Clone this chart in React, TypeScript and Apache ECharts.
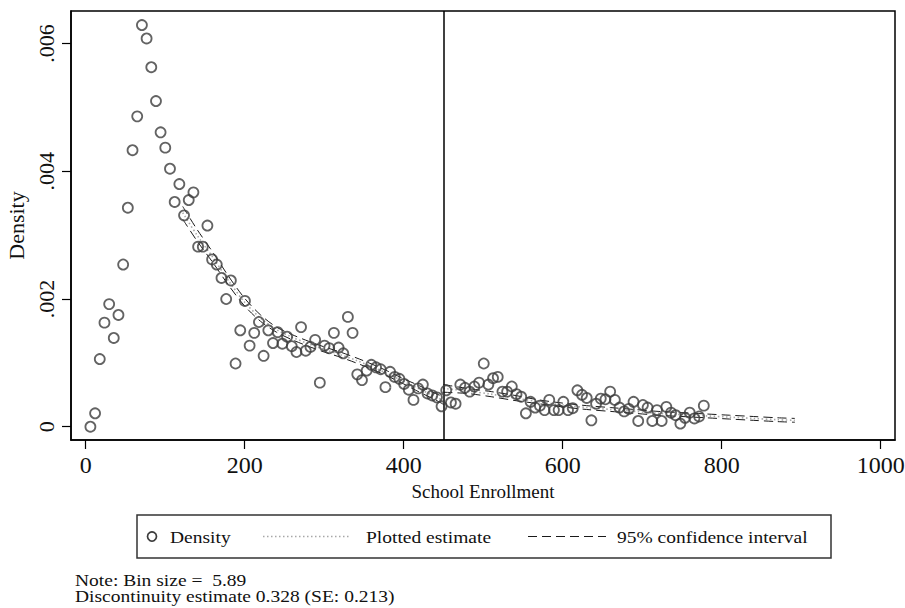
import React, { useEffect, useRef } from "react";
import * as echarts from "echarts";

// Bin centers (School Enrollment)
const binCenters = [
  5.9, 11.8, 17.7, 23.6, 29.5, 35.3, 41.2, 47.1, 53.0, 58.9, 64.8, 70.7, 76.6, 82.5, 88.4, 94.2, 100.1, 106.0, 111.9, 117.8,
  123.7, 129.6, 135.5, 141.4, 147.3, 153.1, 159.0, 164.9, 170.8, 176.7, 182.6, 188.5, 194.4, 200.3, 206.2, 212.0, 217.9, 223.8, 229.7, 235.6,
  241.5, 247.4, 253.3, 259.2, 265.1, 270.9, 276.8, 282.7, 288.6, 294.5, 300.4, 306.3, 312.2, 318.1, 324.0, 329.8, 335.7, 341.6, 347.5, 353.4,
  359.3, 365.2, 371.1, 377.0, 382.9, 388.7, 394.6, 400.5, 406.4, 412.3, 418.2, 424.1, 430.0, 435.9, 441.8, 447.6, 453.5, 459.4, 465.3, 471.2,
  477.1, 483.0, 488.9, 494.8, 500.7, 506.5, 512.4, 518.3, 524.2, 530.1, 536.0, 541.9, 547.8, 553.7, 559.6, 565.4, 571.3, 577.2, 583.1, 589.0,
  594.9, 600.8, 606.7, 612.6, 618.5, 624.3, 630.2, 636.1, 642.0, 647.9, 653.8, 659.7, 665.6, 671.5, 677.4, 683.2, 689.1, 695.0, 700.9, 706.8,
  712.7, 718.6, 724.5, 730.4, 736.3, 742.1, 748.0, 753.9, 759.8, 765.7, 771.6, 777.5,
];

// Density per bin
const density = [
  0.0, 0.00021, 0.00106, 0.00163, 0.00192, 0.00139, 0.00175, 0.00254, 0.00343, 0.00433, 0.00486, 0.00629, 0.00608, 0.00563, 0.0051, 0.00461, 0.00437, 0.00404, 0.00352, 0.0038,
  0.00331, 0.00355, 0.00367, 0.00282, 0.00282, 0.00315, 0.00262, 0.00254, 0.00233, 0.002, 0.00229, 0.00099, 0.00151, 0.00197, 0.00127, 0.00147, 0.00164, 0.00111, 0.00151, 0.00131,
  0.00148, 0.0013, 0.00141, 0.00126, 0.00117, 0.00156, 0.00119, 0.00125, 0.00136, 0.00069, 0.00127, 0.00123, 0.00147, 0.00124, 0.00115, 0.00172, 0.00147, 0.00082, 0.00073, 0.00088,
  0.00097, 0.00093, 0.0009, 0.00062, 0.00086, 0.00078, 0.00075, 0.00067, 0.00058, 0.00042, 0.0006, 0.00066, 0.00052, 0.00049, 0.00046, 0.00032, 0.00057, 0.00038, 0.00036, 0.00066,
  0.00061, 0.00055, 0.00063, 0.00069, 0.00099, 0.00066, 0.00076, 0.00078, 0.00055, 0.00055, 0.00063, 0.00051, 0.00047, 0.00021, 0.00039, 0.0003, 0.00033, 0.00026, 0.00042, 0.00026,
  0.00026, 0.00039, 0.00026, 0.00029, 0.00057, 0.0005, 0.00045, 0.0001, 0.00036, 0.00044, 0.00043, 0.00055, 0.00042, 0.0003, 0.00024, 0.00028, 0.00039, 0.00009, 0.00034, 0.0003,
  0.00009, 0.00026, 0.00009, 0.00031, 0.00022, 0.00018, 0.00005, 0.00014, 0.00022, 0.00013, 0.00016, 0.00033,
];

// Fitted density, left of the cutoff
const leftFitX = [122, 140, 160, 180, 200, 220, 240, 260, 280, 300, 320, 340, 360, 380, 400, 420, 440, 450];
const leftFit = [0.00335, 0.003, 0.00265, 0.00228, 0.00195, 0.0017, 0.00152, 0.0014, 0.0013, 0.00121, 0.00113, 0.00104, 0.00094, 0.00083, 0.00071, 0.00059, 0.00047, 0.00041];
const leftUpper = [0.00345, 0.00309, 0.00273, 0.00235, 0.00201, 0.00175, 0.00156, 0.00144, 0.00134, 0.00125, 0.00117, 0.00108, 0.00098, 0.00087, 0.00075, 0.00064, 0.00052, 0.00047];
const leftLower = [0.00325, 0.00291, 0.00257, 0.00221, 0.00189, 0.00165, 0.00148, 0.00136, 0.00126, 0.00117, 0.00109, 0.001, 0.0009, 0.00079, 0.00067, 0.00054, 0.00042, 0.00035];

// Fitted density, right of the cutoff
const rightFitX = [450, 480, 510, 540, 570, 600, 630, 660, 690, 720, 750, 780, 810, 840, 870, 892];
const rightFit = [0.0006, 0.00056, 0.00051, 0.00045, 0.00039, 0.00034, 0.0003, 0.00027, 0.00024, 0.00021, 0.00019, 0.00017, 0.00015, 0.00013, 0.00011, 0.0001];
const rightUpper = [0.00066, 0.0006, 0.00055, 0.00049, 0.00042, 0.00037, 0.00033, 0.0003, 0.00027, 0.00024, 0.00022, 0.0002, 0.00018, 0.00016, 0.00014, 0.00013];
const rightLower = [0.00054, 0.00052, 0.00047, 0.00041, 0.00036, 0.00031, 0.00027, 0.00024, 0.00021, 0.00018, 0.00016, 0.00014, 0.00012, 0.0001, 0.00008, 0.00007];

const cutoff = 450;
const xTicks = [0, 200, 400, 600, 800, 1000];
const yTicks = [0, 0.002, 0.004, 0.006];

const FONT = "Liberation Serif";
const LEG_Y = 536.5;

const zip = (xs: number[], ys: number[]) => xs.map((x, i) => [x, ys[i]]);

const label = (text: string, x: number, y: number) => ({
  type: "text",
  x,
  y,
  scaleY: 0.9,
  style: { text, fontFamily: FONT, fontSize: 19.5, fill: "#111", textVerticalAlign: "middle" },
});

export default function App() {
  const ref = useRef<HTMLDivElement>(null);

  useEffect(() => {
    if (!ref.current) return;
    const chart = echarts.init(ref.current, undefined, { renderer: "svg" });

    const fitStyle = { color: "#a8a8a8", width: 1.6, type: [1.5, 2.5] as any };
    const ciStyle = { color: "#1a1a1a", width: 1, type: [9, 5] as any };

    const lineSeries = (name: string, xs: number[], ys: number[], style: any, z: number) => ({
      name,
      type: "line",
      data: zip(xs, ys),
      showSymbol: false,
      symbol: "none",
      smooth: 0.3,
      lineStyle: style,
      z,
    });

    chart.setOption({
      animation: false,
      backgroundColor: "#ffffff",
      textStyle: { fontFamily: FONT },
      grid: {
        left: 71,
        right: 10,
        top: 11,
        bottom: 168,
        containLabel: false,
        outerBoundsMode: "none",
        show: true,
        borderColor: "#000",
        borderWidth: 1.5,
      },
      xAxis: {
        type: "value",
        min: -18.5,
        max: 1018,
        name: "School Enrollment",
        nameLocation: "middle",
        nameGap: 33,
        nameTextStyle: { fontFamily: FONT, fontSize: 19, color: "#111" },
        axisLine: { show: true, onZero: false, lineStyle: { color: "#000", width: 1.5 } },
        axisTick: { show: true, length: 9, customValues: xTicks, lineStyle: { color: "#000", width: 1.2 } },
        axisLabel: {
          customValues: xTicks,
          margin: 13,
          fontFamily: FONT,
          fontSize: 24,
          color: "#111",
          formatter: (v: number) => String(v),
        },
        splitLine: { show: false },
      },
      yAxis: {
        type: "value",
        min: -0.000208,
        max: 0.00651,
        name: "Density",
        nameLocation: "middle",
        nameGap: 38,
        nameTextStyle: { fontFamily: FONT, fontSize: 22, color: "#111" },
        axisLine: { show: true, onZero: false, lineStyle: { color: "#000", width: 1.5 } },
        axisTick: { show: true, length: 9, customValues: yTicks, lineStyle: { color: "#000", width: 1.2 } },
        axisLabel: {
          customValues: yTicks,
          rotate: 90,
          margin: 14,
          fontFamily: FONT,
          fontSize: 22,
          color: "#111",
          formatter: (v: number) => (v === 0 ? "0" : v.toFixed(3).replace(/^0/, "")),
        },
        splitLine: { show: false },
      },
      series: [
        {
          name: "Density",
          type: "scatter",
          data: zip(binCenters, density),
          symbol: "circle",
          symbolSize: 10,
          itemStyle: { color: "rgba(0,0,0,0)", borderColor: "#3c3c3c", borderWidth: 1.8 },
          z: 5,
          markLine: {
            silent: true,
            symbol: "none",
            label: { show: false },
            lineStyle: { color: "#000", width: 1.5, type: "solid" },
            data: [{ xAxis: cutoff }],
          },
        },
        lineSeries("Plotted estimate", leftFitX, leftFit, fitStyle, 3),
        lineSeries("Plotted estimate", rightFitX, rightFit, fitStyle, 3),
        lineSeries("95% confidence interval", leftFitX, leftUpper, ciStyle, 4),
        lineSeries("95% confidence interval", leftFitX, leftLower, ciStyle, 4),
        lineSeries("95% confidence interval", rightFitX, rightUpper, ciStyle, 4),
        lineSeries("95% confidence interval", rightFitX, rightLower, ciStyle, 4),
      ],
      graphic: [
        {
          type: "rect",
          shape: { x: 137, y: 515, width: 694, height: 43 },
          style: { fill: "#fff", stroke: "#333", lineWidth: 1.5 },
        },
        {
          type: "circle",
          shape: { cx: 152, cy: LEG_Y, r: 4.5 },
          style: { fill: "none", stroke: "#3c3c3c", lineWidth: 1.7 },
        },
        label("Density", 170, LEG_Y),
        {
          type: "line",
          shape: { x1: 263, y1: LEG_Y, x2: 350, y2: LEG_Y },
          style: { stroke: "#a8a8a8", lineWidth: 1.6, lineDash: [1.5, 2.5] },
        },
        label("Plotted estimate", 366, LEG_Y),
        {
          type: "line",
          shape: { x1: 528, y1: LEG_Y, x2: 606, y2: LEG_Y },
          style: { stroke: "#1a1a1a", lineWidth: 1, lineDash: [9, 5] },
        },
        label("95% confidence interval", 617, LEG_Y),
        label("Note: Bin size =  5.89", 75, 580),
        label("Discontinuity estimate 0.328 (SE: 0.213)", 75, 596),
      ],
    });

    return () => chart.dispose();
  }, []);

  return (
    <div
      ref={ref}
      style={{ position: "absolute", left: 0, top: 0, width: 905, height: 608, background: "#fff" }}
    />
  );
}
